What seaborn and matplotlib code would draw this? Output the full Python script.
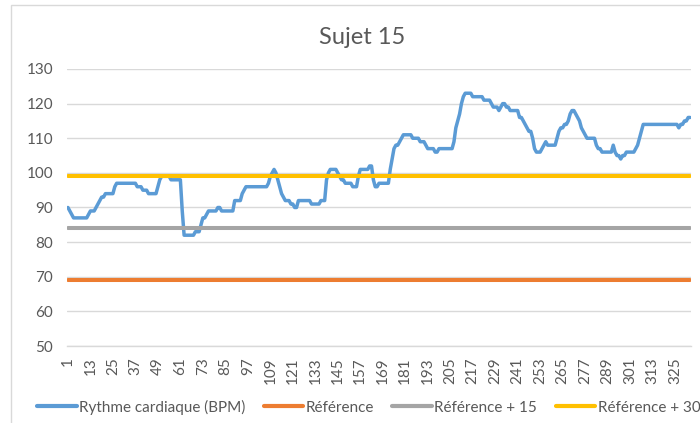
import numpy as np
import pandas as pd
import matplotlib
matplotlib.use("Agg")
import matplotlib.pyplot as plt
import matplotlib.patches as mpatches
import seaborn as sns

# Rythme cardiaque (BPM), un point par mesure
bpm = [
    90, 89, 88, 87, 87, 87, 87, 87, 87, 87, 87, 88, 89, 89, 89, 90, 91, 92, 93, 93,
    94, 94, 94, 94, 94, 96, 97, 97, 97, 97, 97, 97, 97, 97, 97, 97, 97, 96, 96, 96,
    95, 95, 95, 94, 94, 94, 94, 94, 96, 98, 99, 99, 99, 99, 99, 98, 98, 98, 98, 98,
    98, 89, 82, 82, 82, 82, 82, 82, 83, 83, 83, 85, 87, 87, 88, 89, 89, 89, 89, 89,
    90, 90, 89, 89, 89, 89, 89, 89, 89, 92, 92, 92, 92, 94, 95, 96, 96, 96, 96, 96,
    96, 96, 96, 96, 96, 96, 96, 97, 99, 100, 101, 100, 98, 96, 94, 93, 92, 92, 92, 91,
    91, 90, 90, 92, 92, 92, 92, 92, 92, 92, 91, 91, 91, 91, 91, 92, 92, 92, 98, 100,
    101, 101, 101, 101, 100, 99, 98, 98, 97, 97, 97, 97, 96, 96, 96, 99, 101, 101, 101, 101,
    101, 102, 102, 98, 96, 96, 97, 97, 97, 97, 97, 97, 101, 104, 107, 108, 108, 109, 110, 111,
    111, 111, 111, 111, 110, 110, 110, 110, 109, 109, 109, 108, 107, 107, 107, 107, 106, 106, 107, 107,
    107, 107, 107, 107, 107, 107, 109, 113, 115, 117, 120, 122, 123, 123, 123, 123, 122, 122, 122, 122,
    122, 122, 121, 121, 121, 121, 120, 119, 119, 119, 118, 119, 120, 120, 119, 119, 118, 118, 118, 118,
    118, 116, 116, 115, 114, 113, 112, 112, 110, 107, 106, 106, 106, 107, 108, 109, 108, 108, 108, 108,
    108, 110, 112, 113, 113, 114, 114, 115, 117, 118, 118, 117, 116, 115, 113, 112, 111, 110, 110, 110,
    110, 110, 108, 107, 107, 106, 106, 106, 106, 106, 106, 108, 106, 105, 105, 104, 105, 105, 106, 106,
    106, 106, 106, 107, 108, 110, 112, 114, 114, 114, 114, 114, 114, 114, 114, 114, 114, 114, 114, 114,
    114, 114, 114, 114, 114, 114, 113, 114, 114, 115, 115, 116, 116,
]
reference = 69
offsets = [0, 15, 30]
series_names = ["Rythme cardiaque (BPM)", "Référence", "Référence + 15", "Référence + 30"]
colors = ["#5B9BD5", "#ED7D31", "#A5A5A5", "#FFC000"]
y_ticks = [50, 60, 70, 80, 90, 100, 110, 120, 130]

n = len(bpm)
mesure = np.arange(1, n + 1)
frames = [pd.DataFrame({"mesure": mesure, "valeur": bpm, "serie": series_names[0]})]
for name, off in zip(series_names[1:], offsets):
    frames.append(pd.DataFrame({"mesure": mesure, "valeur": reference + off, "serie": name}))
df = pd.concat(frames, ignore_index=True)

sns.set_theme(style="white")
plt.rcParams["font.family"] = ["Lato", "DejaVu Sans"]

fig = plt.figure(figsize=(7, 4.23), dpi=100)
ax = fig.add_axes([67 / 700, 77 / 423, 624 / 700, 277 / 423])

widths = [2.5, 2.9, 2.9, 2.9]
for name, col, lw in zip(series_names, colors, widths):
    sns.lineplot(data=df[df["serie"] == name], x="mesure", y="valeur", color=col,
                 linewidth=lw, ax=ax, label=name, sort=False, legend=False)

ax.set_xlim(0.5, n + 0.5)
ax.set_ylim(50, 130)
ax.set_yticks(y_ticks)
ax.set_xticks(mesure[::12])
ax.set_xticklabels([str(m) for m in mesure[::12]], rotation=90)
ax.grid(axis="y", color="#D9D9D9", linewidth=1)
ax.set_axisbelow(True)
for s in ["top", "right", "left"]:
    ax.spines[s].set_visible(False)
ax.spines["bottom"].set_color("#D9D9D9")
ax.spines["bottom"].set_linewidth(1)
ax.tick_params(axis="y", length=0, pad=10, labelsize=11, labelcolor="#595959")
ax.tick_params(axis="x", length=0, pad=8, labelsize=11, labelcolor="#595959")
ax.set_xlabel("")
ax.set_ylabel("")

fig.text(362 / 700, 1 - 37 / 423, "Sujet 15", ha="center", va="center",
         fontsize=17, color="#595959")

handles = [plt.Line2D([], [], color=c, linewidth=3) for c in colors]
fig.legend(handles, series_names, loc="center left", bbox_to_anchor=(37 / 700, 1 - 407 / 423),
           ncol=4, frameon=False, fontsize=11, handlelength=2.6, handletextpad=0.15,
           columnspacing=1.2, borderpad=0, borderaxespad=0, labelcolor="#595959")

# cadre du graphique (coupé à droite et en bas)
fig.add_artist(mpatches.Rectangle((11 / 700, -0.1), 1.2, 1.1 - 5 / 423, transform=fig.transFigure,
                                  fill=False, edgecolor="#D9D9D9", linewidth=1))

fig.savefig("out.png", dpi=100)
